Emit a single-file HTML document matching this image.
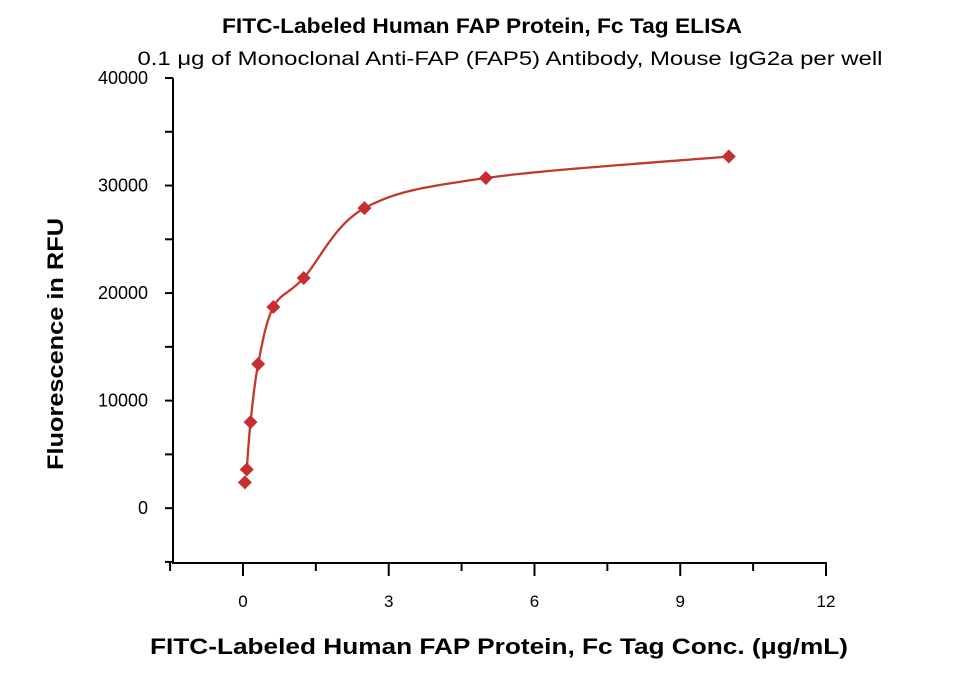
<!DOCTYPE html>
<html><head><meta charset="utf-8"><style>
body{margin:0;background:#fff;}
svg{display:block;font-family:"Liberation Sans",sans-serif;}
</style></head><body>
<svg id="chart" width="960" height="674">
<text x="482" y="33" text-anchor="middle" font-size="21" font-weight="bold" textLength="520" lengthAdjust="spacingAndGlyphs">FITC-Labeled Human FAP Protein, Fc Tag ELISA</text>
<text x="510" y="65" text-anchor="middle" font-size="19" textLength="745" lengthAdjust="spacingAndGlyphs">0.1 μg of Monoclonal Anti-FAP (FAP5) Antibody, Mouse IgG2a per well</text>
<text transform="translate(63,344) rotate(-90)" text-anchor="middle" font-size="22" font-weight="bold" textLength="252" lengthAdjust="spacingAndGlyphs">Fluorescence in RFU</text>
<text x="499" y="654" text-anchor="middle" font-size="22" font-weight="bold" textLength="698" lengthAdjust="spacingAndGlyphs">FITC-Labeled Human FAP Protein, Fc Tag Conc. (μg/mL)</text>
<g id="axes"></g>
<g id="plot"></g>
</svg>
<script>
const xVals=[0.039,0.078,0.156,0.3125,0.625,1.25,2.5,5,10];
const yVals=[2400,3600,8000,13400,18700,21400,27900,30700,32700];
const xTicks=[0,3,6,9,12];
const yTicks=[0,10000,20000,30000,40000];
const ns="http://www.w3.org/2000/svg";
const X0=-1.44,X1=12,Y0=-5100,Y1=40000;
const L=173,R=826,T=78,B=563;
const sx=v=>L+(v-X0)/(X1-X0)*(R-L);
const sy=v=>B-(v-Y0)/(Y1-Y0)*(B-T);
function mk(tag,attrs,parent){const e=document.createElementNS(ns,tag);for(const k in attrs)e.setAttribute(k,attrs[k]);parent.appendChild(e);return e;}
const ax=document.getElementById('axes'),pl=document.getElementById('plot');
let a=mk('line',{x1:L,y1:T,x2:L,y2:B,stroke:'#000','stroke-width':2},ax);

a=mk('line',{x1:L-1,y1:B,x2:R+1,y2:B,stroke:'#000','stroke-width':2},ax);

xTicks.forEach((t,i)=>{
 const x=sx(t);
 let l=mk('line',{x1:x,y1:B,x2:x,y2:B+13,stroke:'#000','stroke-width':2},ax);
 
 let tx=mk('text',{x:x,y:B+44,'text-anchor':'middle','font-size':17},ax);tx.textContent=t;
 
 const m=sx(t-1.5);let ml=mk('line',{x1:m,y1:B,x2:m,y2:B+8,stroke:'#000','stroke-width':2},ax);
 
});
yTicks.forEach(t=>{
 const y=sy(t);
 let l=mk('line',{x1:L,y1:y,x2:L-8,y2:y,stroke:'#000','stroke-width':2},ax);
 
 let tx=mk('text',{x:L-25,y:y+6,'text-anchor':'end','font-size':18},ax);tx.textContent=t;
 
 const m=sy(t-5000);let ml=mk('line',{x1:L,y1:m,x2:L-8,y2:m,stroke:'#000','stroke-width':2},ax);
 
});
const P=xVals.map((v,i)=>[sx(v),sy(yVals[i])]).slice(1);
let d='M'+P[0][0]+','+P[0][1];
for(let i=0;i<P.length-1;i++){
 const p0=P[Math.max(0,i-1)],p1=P[i],p2=P[i+1],p3=P[Math.min(P.length-1,i+2)];
 const c1=[p1[0]+(p2[0]-p0[0])/6,p1[1]+(p2[1]-p0[1])/6];
 const c2=[p2[0]-(p3[0]-p1[0])/6,p2[1]-(p3[1]-p1[1])/6];
 d+=' C'+c1+' '+c2+' '+p2;
}
const c=mk('path',{d:d,fill:'none',stroke:'#c0392b','stroke-width':2.3},pl);

xVals.forEach((v,i)=>{
 const x=sx(v),y=sy(yVals[i]);
 const m=mk('polygon',{points:`${x},${y-7} ${x+7},${y} ${x},${y+7} ${x-7},${y}`,fill:'#c62f2f'},pl);
 
});
</script>
</body></html>
